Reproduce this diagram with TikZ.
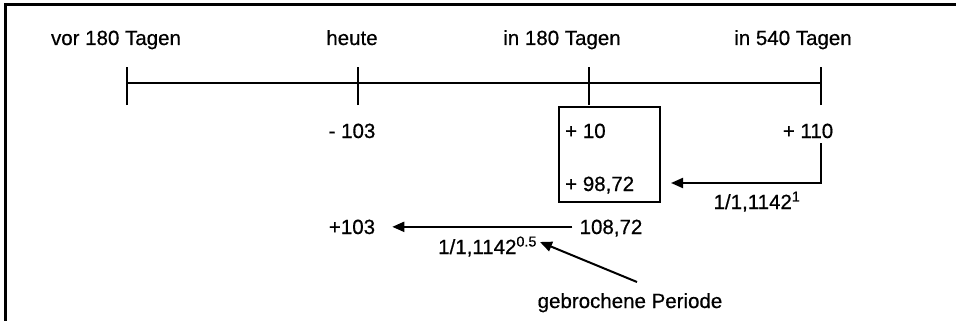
\documentclass[tikz,border=0pt]{standalone}
\usepackage{fontspec}
\setmainfont{Liberation Sans}
\newfontfamily\lblfont{Liberation Sans}[FakeBold=0.6]
\usetikzlibrary{arrows.meta}

\begin{document}
\begin{tikzpicture}[x=1pt,y=-1pt,
  lbl/.style={font=\lblfont\fontsize{20.5}{24}\selectfont, inner sep=0pt, anchor=base, text depth=0pt},
  axis/.style={line width=2.6pt},
  tick/.style={line width=2.4pt},
  frameline/.style={line width=3pt},
  arr/.style={line width=2pt, -{Triangle[length=12pt,width=10pt]}},
  boxed/.style={draw, line width=2pt, minimum width=101pt, minimum height=95pt, inner sep=0pt}]
\useasboundingbox (0,0) rectangle (956,321);

% frame (top and left edge)
\coordinate (fTL) at (5,5);
\coordinate (fTR) at (956,5);
\coordinate (fBL) at (5,321);
\draw[frameline] (fTR) -- (fTL) -- (fBL);

% time axis with ticks
\coordinate (t1) at (127,83);
\coordinate (t2) at (358,83);
\coordinate (t3) at (589,83);
\coordinate (t4) at (821,83);
\draw[axis] (t1) -- (t4);
\foreach \t in {t1,t2,t3,t4}
  \draw[tick] ([yshift=-22pt]\t) -- ([yshift=16pt]\t);

% axis labels
\node[lbl] (l1) at (116,45) {vor 180 Tagen};
\node[lbl] (l2) at (352,45) {heute};
\node[lbl] (l3) at (562,45) {in 180 Tagen};
\node[lbl] (l4) at (793,45) {in 540 Tagen};

% values
\node[lbl] (m103) at (352,138) {- 103};
\node[boxed] (box) at (609.5,154.5) {};
\node[lbl, anchor=base west] (p10) at (565,138) {+ 10};
\node[lbl, anchor=base west] (p9872) at (565,191) {+ 98,72};
\node[lbl] (p110) at (808,138) {+ 110};
\node[lbl] (f1) at (757,209) {1/1,1142\textsuperscript{1}};
\node[lbl] (n10872) at (611,234) {108,72};
\node[lbl] (p103) at (352,234) {+103};
\node[lbl, anchor=base west] (f05) at (438,254) {1/1,1142\textsuperscript{0.5}};
\node[lbl] (gp) at (630,308) {gebrochene Periode};

% discounting arrows
\coordinate (c110) at (821,143);
\coordinate (cknee) at (821,183);
\coordinate (ctip) at (671,183);
\draw[arr] (c110) -- (cknee) -- (ctip);
\draw[arr] ([xshift=-7pt]n10872.west) -- ([xshift=17pt]p103.east);

% pointer to the fractional exponent
\coordinate (gpfrom) at (637,282);
\coordinate (gpto) at (540,242);
\draw[arr] (gpfrom) -- (gpto);
\end{tikzpicture}
\end{document}
